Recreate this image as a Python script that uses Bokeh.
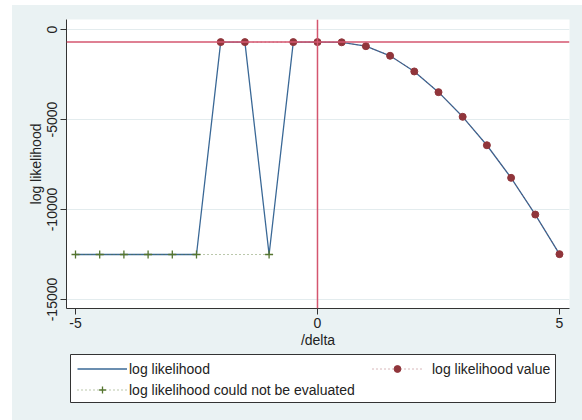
from bokeh.plotting import figure
from bokeh.layouts import column
from bokeh.models import FixedTicker, Legend, LegendItem, Span, BoxAnnotation
from bokeh.embed import file_html
from bokeh.resources import INLINE

# ---- data ----
delta = [-5, -4.5, -4, -3.5, -3, -2.5, -2, -1.5, -1, -0.5, 0, 0.5, 1, 1.5, 2, 2.5, 3, 3.5, 4, 4.5, 5]
loglik = [-12500, -12500, -12500, -12500, -12500, -12500, -700, -700, -12500, -700, -700,
          -710, -925, -1460, -2330, -3480, -4850, -6430, -8240, -10280, -12480]
value_x = [-2, -1.5, -0.5, 0, 0.5, 1, 1.5, 2, 2.5, 3, 3.5, 4, 4.5, 5]
value_y = [-700, -700, -700, -700, -710, -925, -1460, -2330, -3480, -4850, -6430, -8240, -10280, -12480]
fail_x = [-5, -4.5, -4, -3.5, -3, -2.5, -1]
fail_y = [-12500, -12500, -12500, -12500, -12500, -12500, -12500]
max_ll = -700
x_ticks = [-5, 0, 5]
x_tick_labels = ["-5", "0", "5"]
y_ticks = [0, -5000, -10000, -15000]
y_tick_labels = ["0", "-5000", "-10000", "-15000"]
legend_labels = ["log likelihood", "log likelihood could not be evaluated", "log likelihood value"]

FONT = "Liberation Sans"
TXT = "#222222"
BG = "#EAF2F3"
NAVY = "#3A6896"
MAROON = "#90353B"
GREEN = "#55752F"
REF = "#D4566F"

line_style = dict(line_color=NAVY, line_width=1.3)
vline_style = dict(line_color=MAROON, line_width=1, line_dash="1 3", line_alpha=0.7)
vdot_style = dict(marker="circle", size=7, fill_color=MAROON, line_color=MAROON)
fline_style = dict(line_color=GREEN, line_width=1, line_dash="1 3", line_alpha=0.8)
fcross_style = dict(marker="cross", size=8, line_color=GREEN, line_width=1.3)

# ---------------- main plot ----------------
p = figure(width=570, height=348, frame_width=503, frame_height=289,
           x_range=(-5.186, 5.207), y_range=(-15500, 556),
           output_backend="svg", toolbar_location=None,
           min_border_left=54, min_border_right=13, min_border_top=14, min_border_bottom=45,
           background_fill_color="white", border_fill_color=BG, outline_line_color=None)

p.add_layout(Span(location=max_ll, dimension="width", line_color=REF, line_width=1.5))
p.add_layout(Span(location=0, dimension="height", line_color=REF, line_width=1.5))

p.line(delta, loglik, **line_style)
p.line(value_x, value_y, **vline_style)
p.scatter(value_x, value_y, **vdot_style)
p.line(fail_x, fail_y, **fline_style)
p.scatter(fail_x, fail_y, **fcross_style)

for ax, ticks, labels in ((p.xaxis, x_ticks, x_tick_labels), (p.yaxis, y_ticks, y_tick_labels)):
    ax.ticker = FixedTicker(ticks=ticks)
    ax.major_label_overrides = {t: l for t, l in zip(ticks, labels)}
    ax.axis_line_color = "#333333"
    ax.major_tick_line_color = "#333333"
    ax.major_tick_out = 6
    ax.major_tick_in = 0
    ax.minor_tick_line_color = None
    ax.major_label_text_font = FONT
    ax.major_label_text_font_size = "14px"
    ax.major_label_text_color = TXT
    ax.axis_label_text_font = FONT
    ax.axis_label_text_font_size = "14px"
    ax.axis_label_text_font_style = "normal"
    ax.axis_label_text_color = TXT
    ax.major_label_standoff = 3
    ax.axis_label_standoff = 1

p.xaxis.axis_label = "/delta"
p.yaxis.axis_label = "log likelihood"
p.yaxis.major_label_orientation = "vertical"

p.xgrid.visible = False
p.ygrid.ticker = FixedTicker(ticks=y_ticks)
p.ygrid.grid_line_color = "#E3ECEE"

# ---------------- legend strip (frame aligned with the main frame, 1 unit = 1 px) ----------------
lg = figure(width=570, height=67, frame_width=503, frame_height=67,
            x_range=(0, 503), y_range=(0, 67),
            output_backend="svg", toolbar_location=None,
            x_axis_location=None, y_axis_location=None,
            min_border_left=54, min_border_right=13, min_border_top=0, min_border_bottom=0,
            background_fill_color=BG, border_fill_color=BG, outline_line_color=None)
lg.grid.visible = False

lg.add_layout(BoxAnnotation(left=4, right=489, bottom=18, top=66,
                            fill_color="white", fill_alpha=1,
                            line_color="#333333", line_width=1, line_alpha=1))

# legend keys: the same series, all lying below this strip's visible range
k_line = lg.line(delta, loglik, **line_style)
k_vline = lg.line(value_x, value_y, **vline_style)
k_vdot = lg.scatter(value_x, value_y, **vdot_style)
k_fline = lg.line(fail_x, fail_y, **fline_style)
k_fcross = lg.scatter(fail_x, fail_y, **fcross_style)


def style_legend(leg, standoff):
    leg.label_text_font = FONT
    leg.label_text_font_size = "14px"
    leg.label_text_color = TXT
    leg.glyph_width = 50
    leg.glyph_height = 17
    leg.label_height = 17
    leg.label_standoff = standoff
    leg.spacing = 4
    leg.padding = 5
    leg.margin = 0
    leg.border_line_color = None
    leg.background_fill_alpha = 0


legA = Legend(items=[
    LegendItem(label=legend_labels[0], renderers=[k_line]),
    LegendItem(label=legend_labels[1], renderers=[k_fline, k_fcross]),
], location=(11, 22))
style_legend(legA, 2)
legB = Legend(items=[
    LegendItem(label=legend_labels[2], renderers=[k_vline, k_vdot]),
], location=(306, 43))
style_legend(legB, 10)
lg.add_layout(legA, "center")
lg.add_layout(legB, "center")

layout = column(p, lg, spacing=0, margin=(5, 0, 0, 12), styles={"background-color": BG})
open("out.html", "w").write(file_html(layout, INLINE))
